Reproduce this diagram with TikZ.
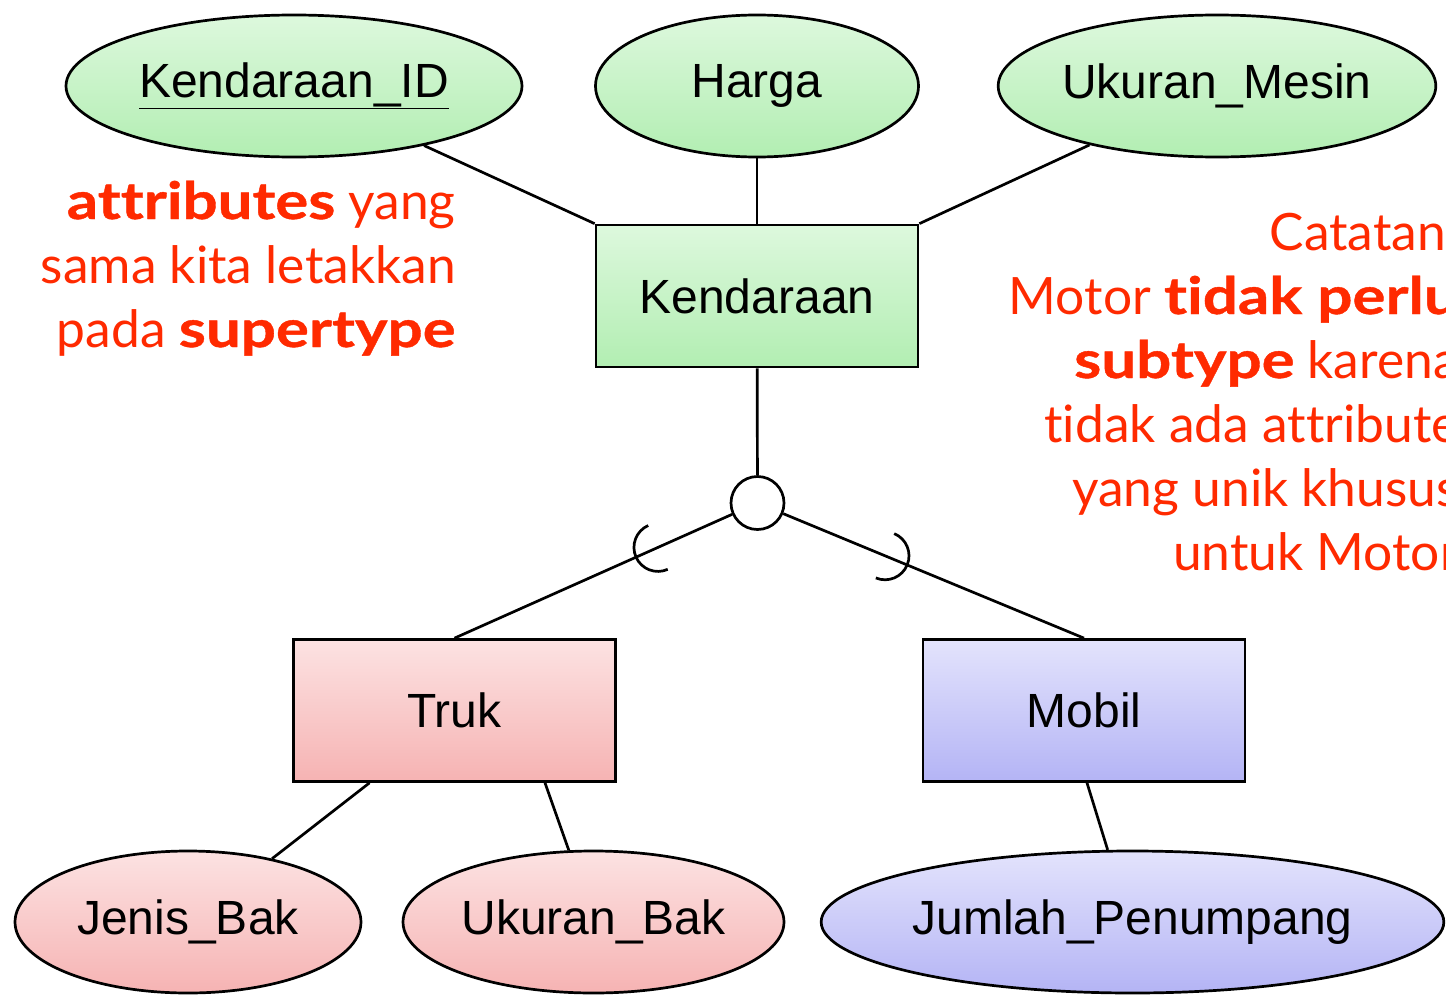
\documentclass[tikz,border=0pt]{standalone}
\usepackage{fontspec}
\setmainfont{Liberation Sans}
\newfontfamily\notefont{Lato}[Ligatures=NoCommon,BoldFeatures={FakeStretch=1.2,FakeBold=0.8}]
\usetikzlibrary{shapes.geometric,calc}
\definecolor{notered}{HTML}{FF2A00}
\definecolor{gtop}{HTML}{DDF8DD}
\definecolor{gbot}{HTML}{B2EEB2}
\definecolor{rtop}{HTML}{FCE2E2}
\definecolor{rbot}{HTML}{F6B3B3}
\definecolor{btop}{HTML}{E3E3FC}
\definecolor{bbot}{HTML}{B4B4F5}
\begin{document}
\begin{tikzpicture}[x=1pt,y=-1pt,line width=2.7pt,
  lbl/.style={font=\fontsize{48}{52}\selectfont},
  attr/.style={ellipse,draw,inner sep=0pt,minimum height=142pt,lbl},
  ent/.style={rectangle,draw,inner sep=0pt,minimum width=322pt,minimum height=142pt,lbl},
  greenfill/.style={top color=gtop,bottom color=gbot},
  redfill/.style={top color=rtop,bottom color=rbot},
  bluefill/.style={top color=btop,bottom color=bbot},
  note/.style={text=notered,inner sep=0pt,font=\notefont\fontsize{51.5}{64}\selectfont}]
\clip (0,0) rectangle (1446,1001);
\fill[white] (0,0) rectangle (1446,1001);
% attributes of the supertype
\node[attr,greenfill,minimum width=456pt] (kid) at (294,86) {\underline{Kendaraan\_ID}};
\node[attr,greenfill,minimum width=323pt] (harga) at (757,86) {Harga};
\node[attr,greenfill,minimum width=437pt] (mesin) at (1217,86) {Ukuran\_Mesin};
% entities
\node[ent,greenfill] (kend) at (757,296) {Kendaraan};
\node[circle,draw,fill=white,minimum size=53pt,inner sep=0pt] (isa) at (757.5,503) {};
\node[ent,redfill] (truk) at (454.5,710.5) {Truk};
\node[ent,bluefill] (mobil) at (1084,710.5) {Mobil};
% attributes of the subtypes
\node[attr,redfill,minimum width=346pt] (jenis) at (188,922) {Jenis\_Bak};
\node[attr,redfill,minimum width=381pt] (ubak) at (593.5,922) {Ukuran\_Bak};
\node[attr,bluefill,minimum width=613pt] (jumlah) at (1132.5,922) {Jumlah\_Penumpang};
% connectors
\draw (kid) -- (kend.north west);
\draw (harga) -- (kend);
\draw (mesin) -- (kend.north east);
\draw (kend) -- (isa);
\draw (isa) -- (truk.north);
\draw (isa) -- (mobil.north);
\draw ([xshift=-85pt]truk.south) -- (jenis.37);
\draw ([xshift=90.5pt]truk.south) -- (ubak.109.5);
\draw ([xshift=3pt]mobil.south) -- (jumlah.109.5);
% subset symbols
\coordinate (apL) at ($(isa.center)!133pt!(truk.north)$);
\coordinate (apR) at ($(isa.center)!162pt!(mobil.north)$);
\draw ($(apL)+(24:24pt)+(114:24pt)$) arc[start angle=114,end angle=294,radius=24pt];
\draw ($(apR)+(157.5:24pt)+(-112.5:24pt)$) arc[start angle=-112.5,end angle=67.5,radius=24pt];
% notes
\node[note,align=right,anchor=base east] (noteL) at (457,347)
  {\textbf{attributes} yang\\sama kita letakkan\\pada \textbf{supertype}};
\node[note,align=right,anchor=base east] (noteR) at (1460,570)
  {Catatan\hphantom{:}\\Motor \textbf{tidak perlu}\\\textbf{subtype} karena\\tidak ada attribute\\yang unik khusus\\untuk Motor};
\end{tikzpicture}
\end{document}
